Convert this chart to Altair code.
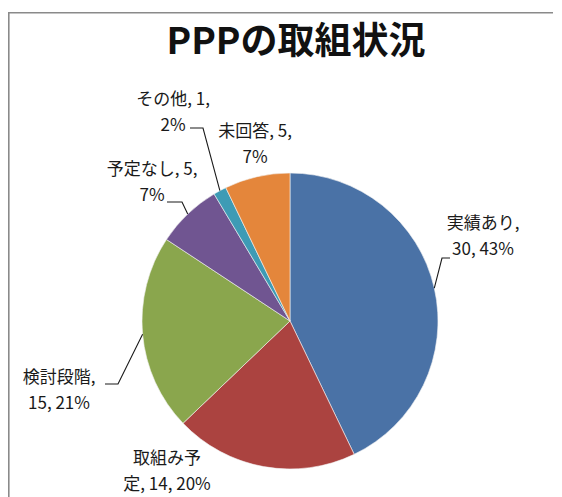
import math
import altair as alt
import pandas as pd

# ---- data ----
title_text = "PPPの取組状況"
categories = ["実績あり", "取組み予定", "検討段階", "予定なし", "その他", "未回答"]
values = [30, 14, 15, 5, 1, 5]
percents = [43, 20, 21, 7, 2, 7]
colors = ["#4A72A6", "#AB4340", "#8AA64D", "#705591", "#3E9BB5", "#E4863B"]

# ---- layout (page pixel coordinates) ----
W, H = 546, 489
OFF = 8  # page margin
CX, CY, R = 290 - OFF, 321 - OFF, 148
FONT = "Noto Sans CJK JP"
TXT = "#1a1a1a"

# first-line centre of each label, wrap style, leader points (label end -> elbow)
label_layout = {
    "実績あり": dict(wrap="name", x=483, y=224, leader=[(450, 258), (442, 258)]),
    "取組み予定": dict(wrap="char4", x=167, y=459, leader=[]),
    "検討段階": dict(wrap="name", x=59, y=378, leader=[(105, 384), (118, 384)]),
    "予定なし": dict(wrap="value", x=152, y=170, leader=[(167, 202), (182, 202)]),
    "その他": dict(wrap="value", x=173, y=100, leader=[(190, 128), (203, 128)]),
    "未回答": dict(wrap="value", x=255, y=132, leader=[]),
}

df = pd.DataFrame({
    "category": categories,
    "value": values,
    "pct": percents,
    "idx": list(range(len(categories))),
})

total = sum(values)


def make_text(c, v, p, wrap):
    if wrap == "name":
        return f"{c},\n{v}, {p}%"
    if wrap == "value":
        return f"{c}, {v},\n{p}%"
    full = f"{c}, {v}, {p}%"
    return full[:4] + "\n" + full[4:]


lab_rows, lead_rows = [], []
cum = 0
for c, v, p in zip(categories, values, percents):
    lay = label_layout[c]
    lab_rows.append({"category": c, "text": make_text(c, v, p, lay["wrap"]),
                     "lx": lay["x"] - OFF, "ly": lay["y"] - OFF})
    mid = (cum + v / 2) / total * 2 * math.pi
    cum += v
    if lay["leader"]:
        pts = [(px - OFF, py - OFF) for px, py in lay["leader"]]
        pts.append((CX + R * math.sin(mid), CY - R * math.cos(mid)))
        for i, (px, py) in enumerate(pts):
            lead_rows.append({"category": c, "ord": i, "px": px, "py": py})

labels_df = pd.DataFrame(lab_rows)
leads_df = pd.DataFrame(lead_rows)

arcs = alt.Chart(df).mark_arc(radius=R, stroke="#f4f4f4", strokeWidth=0.6).encode(
    theta=alt.Theta("value:Q", stack=True),
    color=alt.Color("category:N", scale=alt.Scale(domain=categories, range=colors), legend=None),
    order=alt.Order("idx:Q"),
    x=alt.value(CX),
    y=alt.value(CY),
)

leaders = alt.Chart(leads_df).mark_line(color=TXT, strokeWidth=1.1).encode(
    x=alt.X("px:Q", scale=None, axis=None),
    y=alt.Y("py:Q", scale=None, axis=None),
    detail="category:N",
    order="ord:Q",
)

labels = alt.Chart(labels_df).mark_text(
    font=FONT, fontSize=17, lineBreak="\n", lineHeight=26,
    align="center", baseline="middle", color=TXT,
).encode(
    x=alt.X("lx:Q", scale=None, axis=None),
    y=alt.Y("ly:Q", scale=None, axis=None),
    text="text:N",
)

title = alt.Chart(pd.DataFrame({"t": [title_text]})).mark_text(
    font=FONT, fontSize=37, fontWeight="bold", color="#111111",
    align="center", baseline="middle",
).encode(text="t:N", x=alt.value(296 - OFF), y=alt.value(43 - OFF))

frame_left = alt.Chart(pd.DataFrame({"a": [0]})).mark_rule(color="#8a8a8a", strokeWidth=1.6).encode(
    x=alt.value(0.8), y=alt.value(4), y2=alt.value(H)
)
frame_top = alt.Chart(pd.DataFrame({"a": [0]})).mark_rule(color="#8a8a8a", strokeWidth=1.6).encode(
    x=alt.value(0), x2=alt.value(W - 1), y=alt.value(4.8)
)

chart = alt.layer(frame_left, frame_top, arcs, leaders, labels, title).properties(
    width=W, height=H, padding=0, autosize="none", background="#ffffff"
).configure_view(stroke=None)

chart.save("out.html", embed_options={"renderer": "svg", "actions": False})
